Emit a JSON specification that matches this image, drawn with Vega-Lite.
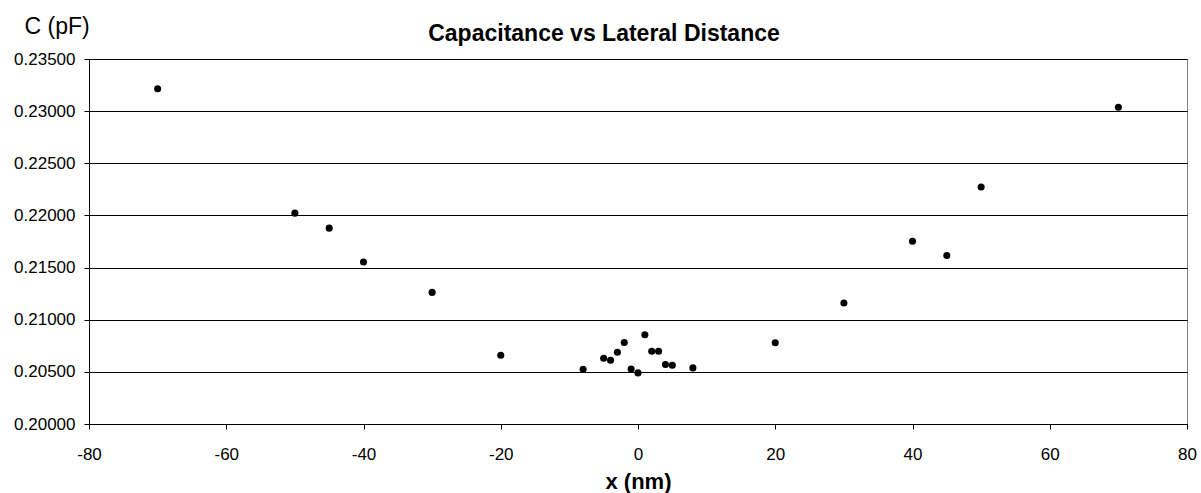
{
  "$schema": "https://vega.github.io/schema/vega-lite/v6.json",
  "width": 1098,
  "height": 365,
  "autosize": "none",
  "padding": {"left": 89, "top": 59, "right": 14, "bottom": 69},
  "background": "white",
  "title": {
    "text": "Capacitance vs Lateral Distance",
    "font": "Liberation Sans",
    "fontSize": 23,
    "fontWeight": "bold",
    "color": "black",
    "anchor": "middle",
    "frame": "group",
    "dx": -34,
    "dy": 49,
    "baseline": "alphabetic",
    "offset": 0
  },
  "config": {
    "view": {"stroke": "#808080", "strokeWidth": 1},
    "font": "Liberation Sans"
  },
  "data": {
    "values": [
      {"x": -70, "c": 0.23214},
      {"x": -50, "c": 0.22022},
      {"x": -45, "c": 0.21878},
      {"x": -40, "c": 0.21554},
      {"x": -30, "c": 0.21262},
      {"x": -20, "c": 0.20660},
      {"x": -8, "c": 0.20525},
      {"x": -5, "c": 0.20631},
      {"x": -4, "c": 0.20611},
      {"x": -3, "c": 0.20688},
      {"x": -2, "c": 0.20782},
      {"x": -1, "c": 0.20528},
      {"x": 0, "c": 0.20490},
      {"x": 1, "c": 0.20856},
      {"x": 2, "c": 0.20698},
      {"x": 3, "c": 0.20698},
      {"x": 4, "c": 0.20570},
      {"x": 5, "c": 0.20564},
      {"x": 8, "c": 0.20538},
      {"x": 20, "c": 0.20779},
      {"x": 30, "c": 0.21160},
      {"x": 40, "c": 0.21753},
      {"x": 45, "c": 0.21615},
      {"x": 50, "c": 0.22272},
      {"x": 70, "c": 0.23038}
    ]
  },
  "mark": {"type": "point", "filled": true, "color": "black", "opacity": 1, "size": 50, "shape": "circle"},
  "encoding": {
    "x": {
      "field": "x",
      "type": "quantitative",
      "scale": {"domain": [-80, 80], "nice": false, "zero": false},
      "axis": {
        "values": [-80, -60, -40, -20, 0, 20, 40, 60, 80],
        "labelExpr": "'' + datum.value",
        "grid": false,
        "domainColor": "black",
        "domainWidth": 1,
        "tickColor": "black",
        "tickSize": 5,
        "labelFont": "Liberation Sans",
        "labelFontSize": 17,
        "labelColor": "black",
        "labelPadding": 17,
        "labelFlush": false,
        "labelOverlap": false,
        "title": "x (nm)",
        "titleFont": "Liberation Sans",
        "titleFontSize": 22,
        "titleFontWeight": "bold",
        "titleColor": "black",
        "titleBaseline": "alphabetic",
        "titleX": 549,
        "titleY": 64,
        "titleAnchor": "middle"
      }
    },
    "y": {
      "field": "c",
      "type": "quantitative",
      "scale": {"domain": [0.2, 0.235], "nice": false, "zero": false},
      "axis": {
        "values": [0.2, 0.205, 0.21, 0.215, 0.22, 0.225, 0.23, 0.235],
        "format": ".5f",
        "grid": true,
        "gridColor": "black",
        "gridOpacity": 1,
        "gridWidth": 1,
        "domainColor": "black",
        "domainWidth": 1,
        "tickColor": "black",
        "tickSize": 5,
        "labelFont": "Liberation Sans",
        "labelFontSize": 17,
        "labelColor": "black",
        "labelPadding": 9,
        "labelFlush": false,
        "labelOverlap": false,
        "title": "C (pF)",
        "titleFont": "Liberation Sans",
        "titleFontSize": 23,
        "titleFontWeight": "normal",
        "titleColor": "black",
        "titleAngle": 0,
        "titleAlign": "left",
        "titleBaseline": "alphabetic",
        "titleX": -65,
        "titleY": -26
      }
    }
  }
}
